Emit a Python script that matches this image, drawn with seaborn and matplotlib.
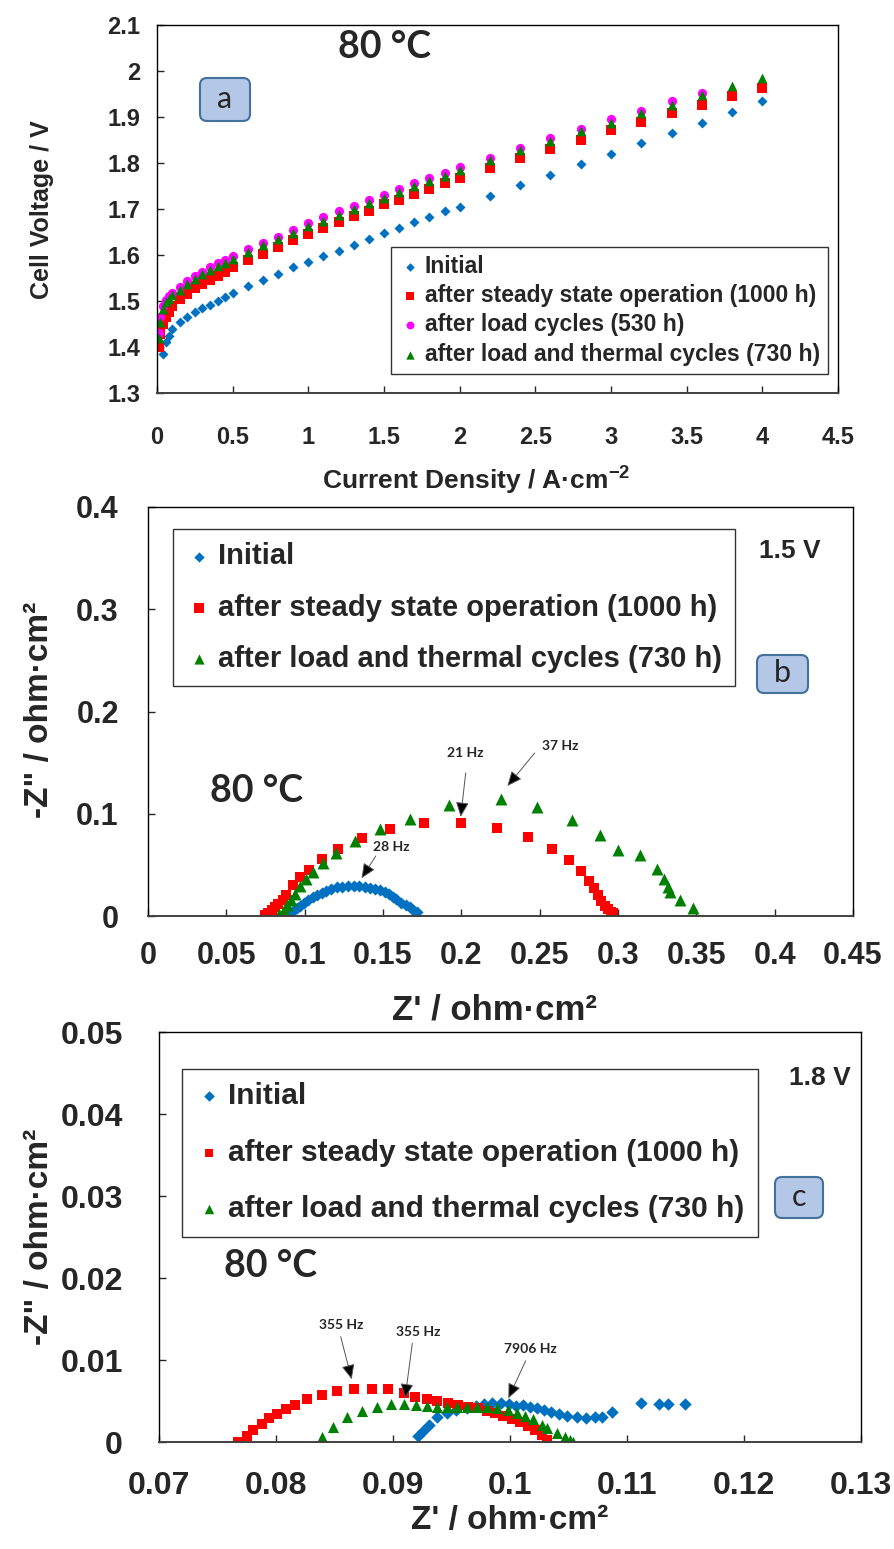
import numpy as np
import seaborn as sns
import matplotlib.pyplot as plt
from matplotlib.patches import FancyBboxPatch
from matplotlib.transforms import IdentityTransform
from matplotlib.ticker import FuncFormatter

W, H = 894, 1549
nan = np.nan

# ---- panel a: polarisation curves, 80 C ----
j_a = [0.01, 0.02, 0.04, 0.06, 0.08, 0.1, 0.15, 0.2, 0.25, 0.3, 0.35, 0.4, 0.45, 0.5,
       0.6, 0.7, 0.8, 0.9, 1.0, 1.1, 1.2, 1.3, 1.4, 1.5, 1.6, 1.7, 1.8, 1.9, 2.0,
       2.2, 2.4, 2.6, 2.8, 3.0, 3.2, 3.4, 3.6, 3.8, 4.0]
v_initial = [nan, nan, 1.385, 1.410, 1.425, 1.439, 1.455, 1.466, 1.476, 1.484, 1.492, 1.501, 1.509, 1.517,
             1.533, 1.545, 1.558, 1.573, 1.585, 1.597, 1.609, 1.622, 1.634, 1.647, 1.659, 1.671, 1.682, 1.695, 1.705,
             1.729, 1.752, 1.775, 1.797, 1.820, 1.843, 1.866, 1.888, 1.911, 1.934]
v_steady = [1.400, 1.428, 1.450, 1.466, 1.477, 1.490, 1.504, 1.516, 1.528, 1.537, 1.545, 1.555, 1.564, 1.573,
            1.589, 1.603, 1.618, 1.632, 1.645, 1.658, 1.672, 1.684, 1.696, 1.710, 1.720, 1.733, 1.744, 1.756, 1.767,
            1.789, 1.811, 1.831, 1.851, 1.871, 1.890, 1.909, 1.927, 1.946, 1.964]
v_load = [1.430, 1.465, 1.490, 1.503, 1.510, 1.518, 1.531, 1.544, 1.554, 1.564, 1.573, 1.583, 1.589, 1.598,
          1.613, 1.627, 1.640, 1.654, 1.669, 1.682, 1.695, 1.707, 1.720, 1.731, 1.744, 1.756, 1.768, 1.779, 1.791,
          1.811, 1.832, 1.854, 1.875, 1.895, 1.914, 1.934, 1.952, nan, nan]
v_thermal = [1.420, 1.455, 1.482, 1.497, 1.505, 1.512, 1.525, 1.538, 1.548, 1.558, 1.567, 1.577, 1.583, 1.592,
             1.607, 1.621, 1.634, 1.648, 1.662, 1.675, 1.688, 1.700, 1.713, 1.725, 1.737, 1.749, 1.761, 1.772, 1.784,
             1.806, 1.828, 1.848, 1.869, 1.888, 1.909, 1.927, 1.947, 1.967, 1.985]

# ---- panel b: impedance at 1.5 V ----
zb_init_re = [0.0884, 0.0906, 0.0927, 0.0948, 0.0969, 0.0995, 0.1022, 0.1050, 0.1076, 0.1108, 0.1135,
              0.1167, 0.1207, 0.1241, 0.1277, 0.1312, 0.1348, 0.1384, 0.1416, 0.1448, 0.1480, 0.1511,
              0.1539, 0.1564, 0.1586, 0.1618, 0.1645, 0.1671, 0.1692, 0.1714]
zb_init_im = [0.0000, 0.0026, 0.0052, 0.0075, 0.0098, 0.0124, 0.0156, 0.0183, 0.0205, 0.0228, 0.0244,
              0.0261, 0.0280, 0.0287, 0.0293, 0.0295, 0.0293, 0.0287, 0.0277, 0.0264, 0.0254, 0.0238,
              0.0215, 0.0189, 0.0163, 0.0130, 0.0108, 0.0085, 0.0059, 0.0039]
zb_steady_re = [0.0746, 0.0767, 0.0789, 0.0810, 0.0831, 0.0859, 0.0884, 0.0927, 0.0969, 0.1029, 0.1108,
                0.1214, 0.1363, 0.1543, 0.1760, 0.2000, 0.2228, 0.2426, 0.2579, 0.2687, 0.2766, 0.2813,
                0.2847, 0.2872, 0.2893, 0.2915, 0.2936, 0.2957, 0.2968]
zb_steady_im = [0.0010, 0.0033, 0.0059, 0.0085, 0.0117, 0.0156, 0.0205, 0.0303, 0.0385, 0.0450, 0.0554,
                0.0652, 0.0760, 0.0848, 0.0906, 0.0912, 0.0864, 0.0773, 0.0655, 0.0548, 0.0440, 0.0345,
                0.0271, 0.0205, 0.0150, 0.0101, 0.0068, 0.0042, 0.0026]
zb_thermal_re = [0.0838, 0.0865, 0.0890, 0.0915, 0.0940, 0.0970, 0.1008, 0.1054, 0.1118, 0.1203, 0.1320,
                 0.1480, 0.1675, 0.1922, 0.2251, 0.2485, 0.2708, 0.2883, 0.3000, 0.3142, 0.3248, 0.3291,
                 0.3318, 0.3329, 0.3397, 0.3478]
zb_thermal_im = [0.0020, 0.0060, 0.0110, 0.0160, 0.0220, 0.0290, 0.0362, 0.0434, 0.0515, 0.0619, 0.0733,
                 0.0848, 0.0946, 0.1086, 0.1141, 0.1063, 0.0939, 0.0795, 0.0645, 0.0597, 0.0457, 0.0362,
                 0.0287, 0.0232, 0.0156, 0.0075]

# ---- panel c: impedance at 1.8 V ----
zc_init_re = [0.0921, 0.0926, 0.0931, 0.0938, 0.0946, 0.0954, 0.0963, 0.0971, 0.0978, 0.0985, 0.0992,
              0.0999, 0.1005, 0.1011, 0.1017, 0.1023, 0.1029, 0.1035, 0.1042, 0.1049, 0.1057, 0.1065,
              0.1073, 0.1079, 0.1087, 0.1112, 0.1127, 0.1135, 0.1150]
zc_init_im = [0.0007, 0.0014, 0.0021, 0.0030, 0.0035, 0.0039, 0.0042, 0.0044, 0.0046, 0.0047, 0.0047,
              0.0046, 0.0044, 0.0045, 0.0043, 0.0041, 0.0039, 0.0037, 0.0034, 0.0032, 0.0030, 0.0029,
              0.0030, 0.0030, 0.0036, 0.0047, 0.0046, 0.0046, 0.0046]
zc_steady_re = [0.07678, 0.07750, 0.07806, 0.07878, 0.07943, 0.08006, 0.08085, 0.08162, 0.08268, 0.08391,
                0.08524, 0.08667, 0.08818, 0.08960, 0.09094, 0.09188, 0.09288, 0.09379, 0.09473, 0.09558,
                0.09644, 0.09729, 0.09801, 0.09872, 0.09943, 0.10015, 0.10085, 0.10157, 0.10214, 0.10271, 0.10314]
zc_steady_im = [0.00000, 0.00073, 0.00146, 0.00220, 0.00289, 0.00341, 0.00399, 0.00451, 0.00521, 0.00573,
                0.00620, 0.00646, 0.00646, 0.00643, 0.00594, 0.00553, 0.00528, 0.00504, 0.00480, 0.00455,
                0.00431, 0.00411, 0.00382, 0.00350, 0.00317, 0.00280, 0.00240, 0.00195, 0.00146, 0.00085, 0.00024]
zc_thermal_re = [0.08391, 0.08490, 0.08604, 0.08732, 0.08861, 0.08980, 0.09094, 0.09197, 0.09288, 0.09373,
                 0.09459, 0.09544, 0.09630, 0.09721, 0.09806, 0.09892, 0.09986, 0.10057, 0.10128, 0.10199,
                 0.10271, 0.10314, 0.10399, 0.10470, 0.10513, 0.10541]
zc_thermal_im = [0.00057, 0.00187, 0.00301, 0.00378, 0.00431, 0.00463, 0.00463, 0.00451, 0.00439, 0.00431,
                 0.00423, 0.00423, 0.00423, 0.00423, 0.00423, 0.00411, 0.00390, 0.00350, 0.00317, 0.00277,
                 0.00207, 0.00167, 0.00106, 0.00065, 0.00024, 0.00004]

lab_init = "Initial"
lab_steady = "after steady state operation (1000 h)"
lab_load = "after load cycles (530 h)"
lab_thermal = "after load and thermal cycles (730 h)"

BLUE, RED, MAGENTA, GREEN = "#0070C0", "#FF0000", "#FF00FF", "#008000"
LATO = ["Lato", "DejaVu Sans"]

sns.set_style("ticks")
plt.rcParams["font.family"] = ["Liberation Sans", "DejaVu Sans"]
plt.rcParams["font.weight"] = "bold"
plt.rcParams["mathtext.fontset"] = "custom"
plt.rcParams["mathtext.rm"] = "Liberation Sans:bold"
plt.rcParams["mathtext.bf"] = "Liberation Sans:bold"
plt.rcParams["mathtext.default"] = "bf"

fig = plt.figure(figsize=(W / 100, H / 100), dpi=100)


def px(x, y):
    return x / W, 1 - y / H


def make_axes(l, t, r, b):
    return fig.add_axes([l / W, 1 - b / H, (r - l) / W, (b - t) / H])


fmt = FuncFormatter(lambda v, p: f"{round(v, 4):g}")


def style_axes(ax, size, xpad, ypad):
    for s in ax.spines.values():
        s.set_color("black")
        s.set_linewidth(1)
    ax.spines["bottom"].set_color("#404040")
    ax.spines["bottom"].set_linewidth(1.4)
    ax.tick_params(direction="in", length=5, width=1, labelsize=size, top=False, right=False)
    ax.tick_params(axis="x", pad=xpad)
    ax.tick_params(axis="y", pad=ypad)
    ax.xaxis.set_major_formatter(fmt)
    ax.yaxis.set_major_formatter(fmt)
    ax.set_xlabel("")
    ax.set_ylabel("")
    for t in ax.get_xticklabels() + ax.get_yticklabels():
        t.set_fontweight("bold")


def label_box(x0, y0, x1, y1, letter):
    patch = FancyBboxPatch((x0, H - y1), x1 - x0, y1 - y0,
                           boxstyle="round,pad=0,rounding_size=7",
                           transform=IdentityTransform(),
                           fc="#b4c7e7", ec="#41719c", lw=1.5)
    fig.add_artist(patch)
    fig.text(*px((x0 + x1) / 2, (y0 + y1) / 2 - 1), letter, fontsize=22,
             family=LATO, fontweight="normal", ha="center", va="center")


def freq_arrow(ax, text, txt_xy, tail, tip):
    ax.text(*txt_xy, text, fontsize=10, family=LATO, fontweight="bold",
            ha="center", va="center")
    ax.annotate("", xy=tip, xytext=tail,
                arrowprops=dict(arrowstyle="-|>,head_length=0.9,head_width=0.4",
                                lw=0.7, ec="#555555", fc="black",
                                shrinkA=0, shrinkB=0))


def add_legend(ax, loc, anchor, size, spacing, pad):
    leg = ax.legend(loc=loc, bbox_to_anchor=anchor, borderaxespad=0,
                    fancybox=False, edgecolor="#333333", framealpha=1, fontsize=size,
                    labelspacing=spacing, handletextpad=0.2, handlelength=0.9,
                    borderpad=pad, markerscale=0.85)
    leg.get_frame().set_linewidth(1)
    return leg


# ---------------- panel a ----------------
ax_a = make_axes(157, 25, 838, 393)
sns.scatterplot(x=j_a, y=v_initial, ax=ax_a, marker="D", color=BLUE, s=26,
                linewidth=0, label=lab_init)
sns.scatterplot(x=j_a, y=v_steady, ax=ax_a, marker="s", color=RED, s=42,
                linewidth=0, label=lab_steady)
sns.scatterplot(x=j_a, y=v_load, ax=ax_a, marker="o", color=MAGENTA, s=44,
                linewidth=0, label=lab_load)
sns.scatterplot(x=j_a, y=v_thermal, ax=ax_a, marker="^", color=GREEN, s=50,
                linewidth=0, label=lab_thermal)
ax_a.set_xlim(0, 4.5)
ax_a.set_ylim(1.3, 2.1)
ax_a.set_xticks(np.arange(0, 4.51, 0.5))
ax_a.set_yticks(np.arange(1.3, 2.101, 0.1))
style_axes(ax_a, 17, 24, 12)
add_legend(ax_a, "lower right", (0.985, 0.052), 16.5, 0.28, 0.35)
fig.text(*px(476, 481), r"Current Density / A·cm$^{-2}$", fontsize=19, ha="center", va="center")
fig.text(*px(42, 210), "Cell Voltage / V", fontsize=18, ha="center", va="center", rotation=90)
fig.text(*px(385, 47), "80 °C", fontsize=27, family=LATO, fontweight="bold", ha="center", va="center")
label_box(200, 78, 250, 121, "a")

# ---------------- panel b ----------------
ax_b = make_axes(148, 507, 853, 916)
sns.scatterplot(x=zb_init_re, y=zb_init_im, ax=ax_b, marker="D", color=BLUE, s=38,
                linewidth=0, label=lab_init)
sns.scatterplot(x=zb_steady_re, y=zb_steady_im, ax=ax_b, marker="s", color=RED, s=62,
                linewidth=0, label=lab_steady)
sns.scatterplot(x=zb_thermal_re, y=zb_thermal_im, ax=ax_b, marker="^", color=GREEN, s=74,
                linewidth=0, label=lab_thermal)
ax_b.set_xlim(0, 0.45)
ax_b.set_ylim(0, 0.4)
ax_b.set_xticks(np.arange(0, 0.451, 0.05))
ax_b.set_yticks(np.arange(0, 0.401, 0.1))
style_axes(ax_b, 22, 18, 21)
add_legend(ax_b, "upper left", (0.035, 0.946), 21, 0.8, 0.45)
freq_arrow(ax_b, "28 Hz", (0.1554, 0.0672), (0.1454, 0.0587), (0.1363, 0.0369))
freq_arrow(ax_b, "21 Hz", (0.2027, 0.1597), (0.2028, 0.1400), (0.1996, 0.0970))
freq_arrow(ax_b, "37 Hz", (0.2628, 0.1663), (0.2468, 0.1594), (0.2294, 0.1271))
fig.text(*px(494, 1010), "Z' / ohm·cm²", fontsize=25, ha="center", va="center")
fig.text(*px(40, 710), "-Z\" / ohm·cm²", fontsize=24, ha="center", va="center", rotation=90)
fig.text(*px(257, 791), "80 °C", fontsize=27, family=LATO, fontweight="bold", ha="center", va="center")
fig.text(*px(790, 551), "1.5 V", fontsize=19, ha="center", va="center")
label_box(757, 655, 808, 693, "b")

# ---------------- panel c ----------------
ax_c = make_axes(159, 1032, 861, 1442)
sns.scatterplot(x=zc_init_re, y=zc_init_im, ax=ax_c, marker="D", color=BLUE, s=40,
                linewidth=0, label=lab_init)
sns.scatterplot(x=zc_steady_re, y=zc_steady_im, ax=ax_c, marker="s", color=RED, s=50,
                linewidth=0, label=lab_steady)
sns.scatterplot(x=zc_thermal_re, y=zc_thermal_im, ax=ax_c, marker="^", color=GREEN, s=64,
                linewidth=0, label=lab_thermal)
ax_c.set_xlim(0.07, 0.13)
ax_c.set_ylim(0, 0.05)
ax_c.set_xticks(np.arange(0.07, 0.1301, 0.01))
ax_c.set_yticks(np.arange(0, 0.0501, 0.01))
style_axes(ax_c, 23, 21, 26)
add_legend(ax_c, "upper left", (0.033, 0.910), 21.5, 0.95, 0.45)
freq_arrow(ax_c, "355 Hz", (0.08561, 0.01427), (0.08553, 0.01284), (0.08647, 0.00765))
freq_arrow(ax_c, "355 Hz", (0.09216, 0.01338), (0.09165, 0.01204), (0.09103, 0.00533))
freq_arrow(ax_c, "7906 Hz", (0.10177, 0.01130), (0.10134, 0.00991), (0.09986, 0.00533))
fig.text(*px(510, 1521), "Z' / ohm·cm²", fontsize=24, ha="center", va="center")
fig.text(*px(40, 1237), "-Z\" / ohm·cm²", fontsize=24, ha="center", va="center", rotation=90)
fig.text(*px(271, 1266), "80 °C", fontsize=27, family=LATO, fontweight="bold", ha="center", va="center")
fig.text(*px(820, 1078), "1.8 V", fontsize=19, ha="center", va="center")
label_box(775, 1177, 823, 1218, "c")

fig.savefig("out.png", dpi=100, facecolor="white")
